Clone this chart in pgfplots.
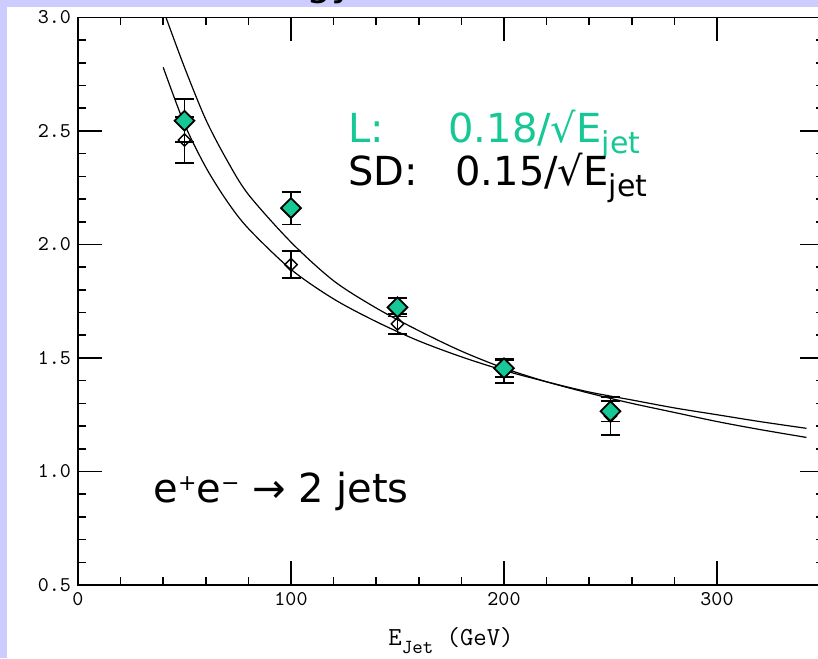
\documentclass[border=0pt]{standalone}
\usepackage{fontspec}
\usepackage{pgfplots}
\pgfplotsset{compat=1.18}
\newfontfamily\annot{DejaVu Sans}
\definecolor{slidebg}{RGB}{204,204,255}
\definecolor{lgreen}{RGB}{22,200,150}
\newcommand{\jetsub}[1]{\raisebox{-5.5pt}{\fontsize{15}{15}\selectfont #1}}
\newcommand{\chg}[1]{\raisebox{6pt}{\fontsize{11}{11}\selectfont #1}}

\begin{document}
\begin{tikzpicture}[x=0.5pt,y=-0.5pt]
\useasboundingbox (0,0) rectangle (818,658);
\clip (0,0) rectangle (818,658);
\fill[slidebg] (0,0) rectangle (818,658);
\fill[white] (7,7) rectangle (818,658);
% slide title, cut off by the crop
\node[anchor=base east, inner sep=0, font=\annot\fontsize{20}{24}\selectfont] at (356,-4) {Energy};

\begin{axis}[
  at={(39pt,-292.5pt)}, anchor=south west,
  scale only axis, width=372.75pt, height=283.8pt,
  xmin=0, xmax=350, ymin=0.5, ymax=3.0,
  xtick={0,100,200,300}, minor x tick num=4,
  ytick={0.5,1.0,1.5,2.0,2.5,3.0}, minor y tick num=4,
  tick align=inside, tick pos=both, ticklabel pos=left,
  major tick length=12pt, minor tick length=4pt,
  axis line style={line width=0.9pt},
  every tick/.style={line width=0.8pt, black},
  /pgf/number format/assume math mode=true,
  yticklabel style={/pgf/number format/.cd, fixed, fixed zerofill, precision=1},
  tick label style={font=\ttfamily\fontsize{10.5}{12}\selectfont},
  clip=true,
]
% fit curves
\addplot[black, line width=0.6pt, smooth] coordinates {
  (41.3,3.00) (50,2.78) (60,2.55) (70,2.37) (80,2.22) (100,2.01) (120,1.84)
  (140,1.72) (160,1.62) (180,1.53) (200,1.455) (220,1.395) (240,1.345) (260,1.30)
  (280,1.26) (300,1.22) (320,1.185) (342,1.15)
};
\addplot[black, line width=0.6pt, smooth] coordinates {
  (40,2.78) (50,2.53) (60,2.34) (70,2.19) (80,2.07) (100,1.89) (120,1.76)
  (140,1.66) (160,1.575) (180,1.505) (200,1.445) (220,1.395) (240,1.35) (260,1.315)
  (280,1.28) (300,1.25) (320,1.22) (342,1.19)
};
% SD points
\addplot[only marks, mark=square, mark size=2.2pt,
  mark options={rotate=45, black, line width=0.7pt},
  error bars/.cd, y dir=both, y explicit,
  error bar style={line width=0.9pt, black},
  error mark options={rotate=90, mark size=4.75pt, line width=0.9pt, black}]
  table[x=x, y=y, y error=e] {
  x   y     e
  50  2.46  0.10
  100 1.911 0.06
  150 1.65  0.045
  200 1.44  0.05
  250 1.245 0.083
};
% L points
\addplot[only marks, mark=square*, mark size=3.5pt,
  mark options={rotate=45, fill=lgreen, draw=black, line width=0.9pt},
  error bars/.cd, y dir=both, y explicit,
  error bar style={line width=0.9pt, black},
  error mark options={rotate=90, mark size=4.75pt, line width=0.9pt, black}]
  table[x=x, y=y, y error=e] {
  x   y     e
  50  2.545 0.095
  100 2.16  0.072
  150 1.723 0.04
  200 1.455 0.04
  250 1.265 0.045
};
\end{axis}

\node[anchor=base, inner sep=0, font=\ttfamily\fontsize{13}{15}\selectfont] at (451,645)
  {E\raisebox{-4pt}{\fontsize{10}{10}\selectfont Jet} (GeV)};

\begin{scope}[every node/.style={inner sep=0, anchor=base west, font=\annot\fontsize{20}{24}\selectfont}]
\node[text=lgreen] at (348,142) {L:};
\node[text=lgreen] at (448,142) {0.18/√E\jetsub{jet}};
\node at (348,185) {SD:};
\node at (455,185) {0.15/√E\jetsub{jet}};
\node at (153,502) {e\chg{+}e\chg{−} → 2 jets};
\end{scope}
\end{tikzpicture}
\end{document}
